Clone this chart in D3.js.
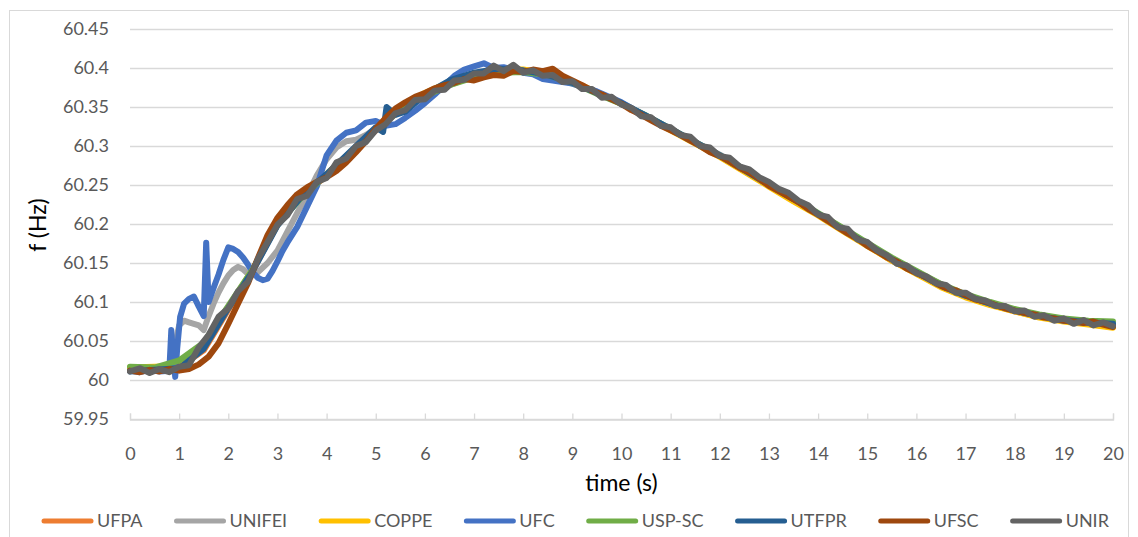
<!DOCTYPE html>
<html>
<head>
<meta charset="utf-8">
<script src="https://cdn.jsdelivr.net/npm/d3@7"></script>
<style>
	body { margin: 0; background: #fff; }
	text { font-family: Lato, "Open Sans", sans-serif; }
</style>
</head>
<body>
<svg id="chart" width="1138" height="537"></svg>
<script>

const seriesNames = ["UFPA", "UNIFEI", "COPPE", "UFC", "USP-SC", "UTFPR", "UFSC", "UNIR"];

const UFPA = [[0,60.013],[0.5,60.015],[1,60.016],[1.5,60.038],[2,60.09],[2.5,60.14],[3,60.2],[3.5,60.236],[4,60.262],[4.5,60.292],[5,60.32],[5.5,60.348],[6,60.366],[6.5,60.38],[7,60.39],[7.5,60.396],[8,60.397],[8.5,60.392],[9,60.382],[9.5,60.368],[10,60.354],[10.5,60.338],[11,60.321],[11.5,60.304],[12,60.287],[12.5,60.268],[13,60.249],[13.5,60.23],[14,60.212],[14.5,60.192],[15,60.173],[15.5,60.153],[16,60.137],[16.5,60.12],[17,60.107],[17.5,60.097],[18,60.088],[18.5,60.081],[19,60.076],[19.5,60.072],[20,60.068]];

const UNIFEI = [[0,60.013],[0.2,60.011],[0.4,60.013],[0.6,60.012],[0.8,60.014],[0.9,60.04],[1,60.07],[1.1,60.076],[1.2,60.074],[1.3,60.072],[1.4,60.07],[1.5,60.064],[1.6,60.082],[1.7,60.098],[1.8,60.112],[1.9,60.124],[2,60.134],[2.1,60.141],[2.2,60.145],[2.3,60.142],[2.4,60.136],[2.5,60.134],[2.6,60.138],[2.8,60.15],[3,60.166],[3.2,60.19],[3.4,60.214],[3.6,60.236],[3.8,60.262],[4,60.283],[4.2,60.298],[4.4,60.306],[4.6,60.308],[4.8,60.314],[5,60.322],[5.5,60.345],[6,60.362],[6.5,60.378],[7,60.39],[7.5,60.398],[8,60.396],[8.5,60.39],[9,60.38],[9.5,60.369],[10,60.355],[10.5,60.339],[11,60.322],[11.5,60.305],[12,60.289],[12.5,60.27],[13,60.251],[13.5,60.233],[14,60.213],[14.5,60.194],[15,60.174],[15.5,60.156],[16,60.138],[16.5,60.123],[17,60.108],[17.5,60.099],[18,60.09],[18.5,60.082],[19,60.077],[19.5,60.073],[20,60.071]];

const COPPE = [[0,60.016],[0.5,60.017],[1,60.018],[1.5,60.042],[2,60.093],[2.5,60.142],[3,60.202],[3.5,60.238],[4,60.264],[4.5,60.293],[5,60.322],[5.5,60.35],[6,60.368],[6.5,60.382],[7,60.392],[7.5,60.398],[8,60.398],[8.5,60.393],[9,60.383],[9.5,60.369],[10,60.355],[10.5,60.338],[11,60.32],[11.5,60.303],[12,60.286],[12.5,60.267],[13,60.248],[13.5,60.229],[14,60.211],[14.5,60.191],[15,60.172],[15.5,60.153],[16,60.136],[16.5,60.119],[17,60.106],[17.5,60.096],[18,60.088],[18.5,60.08],[19,60.075],[19.5,60.071],[20,60.067]];

const UFC = [[0,60.012],[0.2,60.01],[0.4,60.013],[0.6,60.011],[0.8,60.012],[0.84,60.064],[0.88,60.03],[0.92,60.004],[0.96,60.04],[1.02,60.081],[1.1,60.098],[1.2,60.104],[1.3,60.107],[1.4,60.094],[1.5,60.082],[1.55,60.176],[1.6,60.1],[1.7,60.118],[1.8,60.135],[1.9,60.154],[2,60.17],[2.1,60.168],[2.2,60.164],[2.3,60.157],[2.4,60.148],[2.5,60.138],[2.6,60.131],[2.7,60.128],[2.8,60.13],[2.9,60.14],[3,60.152],[3.1,60.165],[3.2,60.176],[3.4,60.196],[3.6,60.222],[3.8,60.248],[4,60.288],[4.2,60.307],[4.4,60.317],[4.6,60.32],[4.8,60.33],[5,60.332],[5.2,60.326],[5.4,60.328],[5.6,60.336],[5.8,60.345],[6,60.355],[6.2,60.366],[6.4,60.378],[6.6,60.39],[6.8,60.398],[7,60.402],[7.2,60.406],[7.4,60.4],[7.6,60.401],[7.8,60.398],[8,60.394],[8.2,60.392],[8.4,60.386],[8.6,60.384],[8.8,60.382],[9,60.38],[9.5,60.37],[10,60.356],[10.5,60.338],[11,60.321],[11.5,60.304],[12,60.288],[12.5,60.27],[13,60.251],[13.5,60.232],[14,60.213],[14.5,60.194],[15,60.174],[15.5,60.155],[16,60.138],[16.5,60.121],[17,60.108],[17.5,60.098],[18,60.089],[18.5,60.082],[19,60.076],[19.5,60.073],[20,60.071]];

const USP_SC = [[0,60.017],[0.5,60.016],[1,60.025],[1.5,60.048],[2,60.095],[2.5,60.142],[3,60.199],[3.5,60.235],[4,60.263],[4.5,60.293],[5,60.321],[5.5,60.346],[6,60.364],[6.5,60.378],[7,60.388],[7.5,60.394],[8,60.395],[8.5,60.391],[9,60.381],[9.5,60.367],[10,60.354],[10.5,60.339],[11,60.322],[11.5,60.305],[12,60.288],[12.5,60.27],[13,60.251],[13.5,60.233],[14,60.214],[14.5,60.195],[15,60.176],[15.5,60.157],[16,60.14],[16.5,60.123],[17,60.11],[17.5,60.1],[18,60.091],[18.5,60.084],[19,60.079],[19.5,60.076],[20,60.075]];

const UTFPR = [[0,60.011],[0.5,60.013],[1,60.015],[1.5,60.04],[2,60.092],[2.5,60.14],[3,60.198],[3.5,60.236],[4,60.264],[4.5,60.294],[5,60.324],[5.15,60.318],[5.22,60.35],[5.4,60.34],[5.6,60.344],[6,60.366],[6.5,60.384],[7,60.394],[7.5,60.399],[8,60.397],[8.5,60.391],[9,60.381],[9.5,60.368],[10,60.355],[10.5,60.339],[11,60.322],[11.5,60.305],[12,60.288],[12.5,60.269],[13,60.25],[13.5,60.232],[14,60.213],[14.5,60.193],[15,60.174],[15.5,60.155],[16,60.138],[16.5,60.121],[17,60.108],[17.5,60.098],[18,60.089],[18.5,60.082],[19,60.077],[19.5,60.074],[20,60.072]];

const UFSC = [[0,60.012],[0.2,60.01],[0.4,60.013],[0.6,60.011],[0.8,60.014],[1,60.012],[1.2,60.014],[1.4,60.02],[1.6,60.03],[1.8,60.047],[2,60.072],[2.2,60.098],[2.4,60.124],[2.6,60.156],[2.8,60.186],[3,60.208],[3.2,60.224],[3.4,60.238],[3.6,60.247],[3.8,60.254],[4,60.26],[4.2,60.268],[4.4,60.279],[4.6,60.292],[4.8,60.306],[5,60.322],[5.2,60.336],[5.4,60.348],[5.6,60.356],[5.8,60.363],[6,60.368],[6.2,60.374],[6.4,60.378],[6.6,60.381],[6.8,60.386],[7,60.384],[7.2,60.388],[7.4,60.391],[7.6,60.39],[7.8,60.396],[8,60.395],[8.2,60.398],[8.4,60.396],[8.6,60.399],[8.8,60.39],[9,60.384],[9.2,60.378],[9.4,60.371],[9.6,60.366],[9.8,60.36],[10,60.354],[10.2,60.346],[10.4,60.34],[10.6,60.333],[10.8,60.326],[11,60.32],[11.2,60.314],[11.4,60.307],[11.6,60.3],[11.8,60.292],[12,60.287],[12.2,60.28],[12.4,60.272],[12.6,60.266],[12.8,60.258],[13,60.249],[13.2,60.242],[13.4,60.235],[13.6,60.228],[13.8,60.219],[14,60.212],[14.2,60.204],[14.4,60.196],[14.6,60.188],[14.8,60.181],[15,60.172],[15.2,60.165],[15.4,60.157],[15.6,60.152],[15.8,60.143],[16,60.137],[16.2,60.132],[16.4,60.124],[16.6,60.118],[16.8,60.115],[17,60.109],[17.2,60.103],[17.4,60.101],[17.6,60.096],[17.8,60.092],[18,60.089],[18.2,60.086],[18.4,60.084],[18.6,60.08],[18.8,60.079],[19,60.076],[19.2,60.075],[19.4,60.073],[19.6,60.075],[19.8,60.071],[20,60.068]];

const UNIR = [[0,60.011],[0.2,60.015],[0.4,60.009],[0.6,60.014],[0.8,60.01],[1,60.017],[1.2,60.019],[1.4,60.042],[1.6,60.058],[1.8,60.081],[2,60.092],[2.2,60.114],[2.4,60.126],[2.6,60.155],[2.8,60.177],[3,60.199],[3.2,60.211],[3.4,60.232],[3.6,60.236],[3.8,60.254],[4,60.259],[4.2,60.279],[4.4,60.284],[4.6,60.3],[4.8,60.305],[5,60.32],[5.2,60.328],[5.4,60.342],[5.6,60.346],[5.8,60.359],[6,60.36],[6.2,60.371],[6.4,60.372],[6.6,60.384],[6.8,60.385],[7,60.393],[7.2,60.393],[7.4,60.403],[7.6,60.396],[7.8,60.404],[8,60.394],[8.2,60.397],[8.4,60.39],[8.6,60.391],[8.8,60.382],[9,60.383],[9.2,60.373],[9.4,60.373],[9.6,60.362],[9.8,60.363],[10,60.353],[10.2,60.349],[10.4,60.338],[10.6,60.337],[10.8,60.326],[11,60.324],[11.2,60.314],[11.4,60.312],[11.6,60.3],[11.8,60.298],[12,60.287],[12.2,60.285],[12.4,60.274],[12.6,60.27],[12.8,60.26],[13,60.254],[13.2,60.245],[13.4,60.24],[13.6,60.23],[13.8,60.224],[14,60.212],[14.2,60.209],[14.4,60.196],[14.6,60.194],[14.8,60.18],[15,60.177],[15.2,60.166],[15.4,60.16],[15.6,60.149],[15.8,60.147],[16,60.137],[16.2,60.133],[16.4,60.124],[16.6,60.122],[16.8,60.112],[17,60.112],[17.2,60.104],[17.4,60.102],[17.6,60.095],[17.8,60.095],[18,60.088],[18.2,60.089],[18.4,60.081],[18.6,60.083],[18.8,60.076],[19,60.079],[19.2,60.072],[19.4,60.077],[19.6,60.07],[19.8,60.074],[20,60.069]];

const seriesValues = [UFPA, UNIFEI, COPPE, UFC, USP_SC, UTFPR, UFSC, UNIR];

// tick labels
const xTicks = [0,1,2,3,4,5,6,7,8,9,10,11,12,13,14,15,16,17,18,19,20];
const yTicks = [59.95,60,60.05,60.1,60.15,60.2,60.25,60.3,60.35,60.4,60.45];
const yTickLabels = ["59.95","60","60.05","60.1","60.15","60.2","60.25","60.3","60.35","60.4","60.45"];

// office palette, same order as the series
const seriesColors = ["#ED7D31", "#A5A5A5", "#FFC000", "#4472C4", "#70AD47", "#255E91", "#9E480E", "#636363"];


// ---- layout ----
let plot = {left: 130, right: 1113, top: 29, bottom: 419};
let gridColor = "#D9D9D9";
let labelColor = "#595959";
let lineWidth = 6;
let tickFont = "18px";
let titleFont = "23px";

let svg = d3.select("#chart");

// chart frame
svg.append("rect")
	.attr("x", 9.5).attr("y", 10.5)
	.attr("width", 1119).attr("height", 540)
	.attr("fill", "#fff")
	.attr("stroke", gridColor);

let scaleX = d3.scaleLinear()
	.domain([0, 20])
	.range([plot.left, plot.right]);

let scaleY = d3.scaleLinear()
	.domain([59.95, 60.45])
	.range([plot.bottom, plot.top]);

// horizontal gridlines (the lowest one is the axis line)
svg.append("g")
	.selectAll("line")
	.data(yTicks)
	.enter()
	.append("line")
		.attr("x1", plot.left)
		.attr("x2", plot.right)
		.attr("y1", d => Math.round(scaleY(d)) + 0.5)
		.attr("y2", d => Math.round(scaleY(d)) + 0.5)
		.attr("stroke", gridColor)
		.attr("stroke-width", 1.3);

// y tick labels
svg.append("g")
	.selectAll("text")
	.data(yTicks)
	.enter()
	.append("text")
		.attr("x", 109)
		.attr("y", d => scaleY(d))
		.attr("dy", "0.35em")
		.attr("text-anchor", "end")
		.attr("fill", labelColor)
		.style("font-size", tickFont)
		.text((d, i) => yTickLabels[i]);

// x axis : ticks pointing up, labels below
let xAxis = d3.axisBottom(scaleX)
	.tickValues(xTicks)
	.tickSize(-6)
	.tickPadding(28)
	.tickFormat(d3.format("d"));

let gx = svg.append("g")
	.attr("transform", "translate(0," + (Math.round(plot.bottom) + 0.5) + ")")
	.call(xAxis);

gx.select(".domain").attr("stroke", gridColor).attr("stroke-width", 1.3);
gx.selectAll(".tick line").attr("stroke", gridColor).attr("stroke-width", 1.3);
gx.selectAll(".tick text")
	.attr("fill", labelColor)
	.style("font-family", "Lato, 'Open Sans', sans-serif")
	.style("font-size", tickFont);

// axis titles
svg.append("text")
	.attr("x", (plot.left + plot.right) / 2)
	.attr("y", 491)
	.attr("text-anchor", "middle")
	.attr("fill", "#000")
	.style("font-size", titleFont)
	.text("time (s)");

svg.append("text")
	.attr("transform", "translate(46,225) rotate(-90)")
	.attr("text-anchor", "middle")
	.attr("fill", "#000")
	.style("font-size", titleFont)
	.text("f (Hz)");

// the curves, first series at the bottom
let line = d3.line()
	.x(d => scaleX(d[0]))
	.y(d => scaleY(d[1]));

svg.append("g")
	.selectAll("path")
	.data(seriesValues)
	.enter()
	.append("path")
		.attr("d", d => line(d))
		.attr("fill", "none")
		.attr("stroke", (d, i) => seriesColors[i])
		.attr("stroke-width", lineWidth)
		.attr("stroke-linejoin", "round")
		.attr("stroke-linecap", "round");

// legend
let legendY = 521;
let legendX = 42;
let legend = svg.append("g");

seriesNames.forEach((name, i) => {
	legend.append("line")
		.attr("x1", legendX + 2).attr("x2", legendX + 49)
		.attr("y1", legendY).attr("y2", legendY)
		.attr("stroke", seriesColors[i])
		.attr("stroke-width", 5)
		.attr("stroke-linecap", "round");

	let t = legend.append("text")
		.attr("x", legendX + 55)
		.attr("y", legendY)
		.attr("dy", "0.36em")
		.attr("fill", labelColor)
		.style("font-size", tickFont)
		.text(name);

	legendX += 55 + t.node().getComputedTextLength() + 32;
});

</script>
</body>
</html>
